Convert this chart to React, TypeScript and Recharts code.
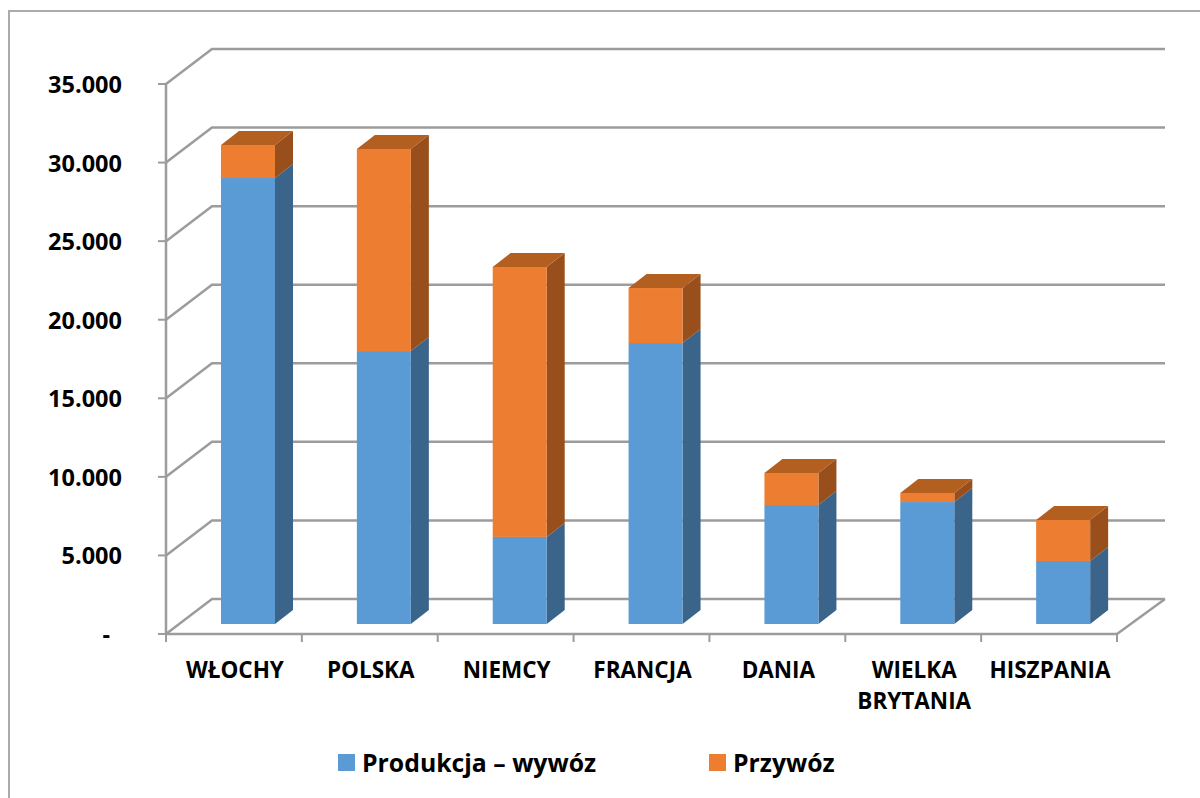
import { BarChart, Bar, XAxis, YAxis, CartesianGrid, Legend } from 'recharts';

const categories = ['WŁOCHY', 'POLSKA', 'NIEMCY', 'FRANCJA', 'DANIA', 'WIELKA BRYTANIA', 'HISZPANIA'];
const produkcja = [28380, 17370, 5540, 17880, 7570, 7760, 4010];
const przywoz = [2100, 12860, 17180, 3500, 2040, 580, 2610];
const yTicks = [0, 5000, 10000, 15000, 20000, 25000, 30000, 35000];

const data = categories.map((name, i) => ({
  name,
  produkcja: produkcja[i],
  przywoz: przywoz[i],
}));

const FONT = '"Open Sans", sans-serif';
const GRID = '#9c9c9c';
const PLOT_RIGHT = 1117;
const BAND = 135.86;
// depth of the floor and of a bar, in px
const WALL_DX = 46;
const WALL_END_DX = 48;
const WALL_DY = 35;
const BAR_DX = 18;
const BAR_DY = 14;
const BAR_SHIFT_X = 14;
const BAR_SHIFT_Y = 10;

function Box({ x, y, width, height, front, side, top }: any) {
  const l = x + BAR_SHIFT_X;
  const r = l + width;
  const t = y - BAR_SHIFT_Y;
  const b = t + height;
  return (
    <g>
      <path d={`M${r},${t} L${r + BAR_DX},${t - BAR_DY} L${r + BAR_DX},${b - BAR_DY} L${r},${b} Z`} fill={side} />
      {top && <path d={`M${l},${t} L${l + BAR_DX},${t - BAR_DY} L${r + BAR_DX},${t - BAR_DY} L${r},${t} Z`} fill={top} />}
      <rect x={l} y={t} width={width} height={height} fill={front} />
    </g>
  );
}

function renderWallLine(props: any) {
  const { x1, y1, x2, y2, index } = props;
  const backY = y1 - WALL_DY;
  const isFloor = Math.abs(y2 - 634) < 1;
  return (
    <g key={index}>
      <path
        d={`M${x1},${y1} L${x1 + WALL_DX},${backY} L${x2 + WALL_END_DX},${backY}`}
        fill="none"
        stroke={GRID}
        strokeWidth={2.5}
      />
      {isFloor && (
        <path d={`M${x2},${y1} L${x2 + WALL_END_DX},${backY}`} fill="none" stroke={GRID} strokeWidth={2.5} />
      )}
    </g>
  );
}

function ValueTick({ y, payload }: any) {
  const value = payload.value;
  const label = value === 0 ? '-' : value.toLocaleString('de-DE');
  return (
    <text
      x={value === 0 ? 110 : 122}
      y={y + 9}
      textAnchor="end"
      fill="#000"
      fontFamily={FONT}
      fontWeight={700}
      fontSize={23.5}
    >
      {label}
    </text>
  );
}

function CategoryTick({ x, payload, index }: any) {
  const words: string[] = payload.value.length > 10 ? payload.value.split(' ') : [payload.value];
  const left = x - BAND / 2;
  return (
    <g>
      <line x1={left} y1={634} x2={left} y2={642} stroke={GRID} strokeWidth={2} />
      {index === categories.length - 1 && (
        <line x1={PLOT_RIGHT} y1={634} x2={PLOT_RIGHT} y2={642} stroke={GRID} strokeWidth={2} />
      )}
      {words.map((w, i) => (
        <text
          key={w}
          x={x + 1}
          y={678 + i * 31}
          textAnchor="middle"
          fill="#000"
          fontFamily={FONT}
          fontWeight={700}
          fontSize={22.5}
        >
          {w}
        </text>
      ))}
    </g>
  );
}

function LegendContent({ payload }: any) {
  return (
    <div style={{ display: 'flex', paddingLeft: 338, paddingTop: 7, fontFamily: FONT }}>
      {(payload || []).map((item: any) => (
        <div key={item.value} style={{ width: 371, display: 'flex', alignItems: 'center' }}>
          <span style={{ width: 17, height: 17, background: item.color, marginRight: 7 }} />
          <span style={{ fontSize: 24.8, fontWeight: 700, color: '#000' }}>{item.value}</span>
        </div>
      ))}
    </div>
  );
}

export default function App() {
  return (
    <div style={{ position: 'absolute', left: 0, top: 0, width: 1200, height: 798, background: '#fff', overflow: 'hidden' }}>
      <div
        style={{
          position: 'absolute',
          left: 8,
          top: 10,
          width: 1192,
          height: 788,
          borderLeft: '2px solid #ababab',
          borderTop: '2px solid #ababab',
        }}
      />
      <BarChart
        width={1200}
        height={798}
        data={data}
        barSize={54}
        margin={{ top: 84, right: 83, bottom: 0, left: 0 }}
      >
        <CartesianGrid vertical={false} horizontal={renderWallLine} />
        <XAxis
          dataKey="name"
          height={104}
          interval={0}
          tickLine={false}
          axisLine={{ stroke: GRID, strokeWidth: 2.5 }}
          tick={<CategoryTick />}
        />
        <YAxis
          width={166}
          domain={[0, 35000]}
          ticks={yTicks}
          tickSize={8}
          tickLine={{ stroke: GRID, strokeWidth: 2 }}
          axisLine={{ stroke: GRID, strokeWidth: 2.5 }}
          tick={<ValueTick />}
        />
        <Legend verticalAlign="bottom" height={60} wrapperStyle={{ left: 0, width: 1200 }} content={<LegendContent />} />
        <Bar
          dataKey="produkcja"
          name="Produkcja – wywóz"
          stackId="a"
          fill="#5b9bd5"
          isAnimationActive={false}
          shape={(p: any) => <Box {...p} front="#5b9bd5" side="#3a648a" />}
        />
        <Bar
          dataKey="przywoz"
          name="Przywóz"
          stackId="a"
          fill="#ed7d31"
          isAnimationActive={false}
          shape={(p: any) => <Box {...p} front="#ed7d31" side="#984f1c" top="#b35f20" />}
        />
      </BarChart>
    </div>
  );
}
